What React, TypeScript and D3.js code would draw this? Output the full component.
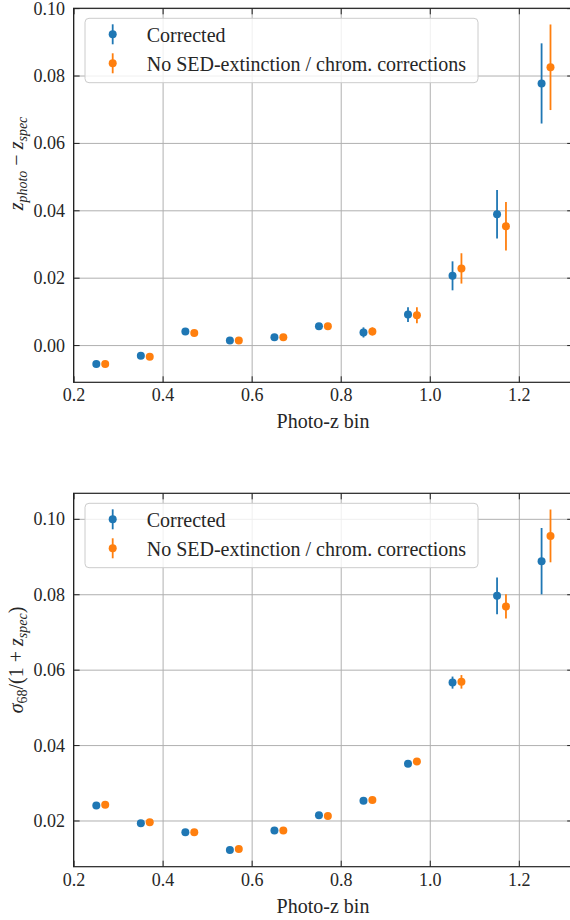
import React from "react";
import * as d3 from "d3";

const binsCorrected = [0.25, 0.35, 0.45, 0.55, 0.65, 0.75, 0.85, 0.95, 1.05, 1.15, 1.25];
const binsNoCorr = [0.27, 0.37, 0.47, 0.57, 0.67, 0.77, 0.87, 0.97, 1.07, 1.17, 1.27];

const biasCorrected = [-0.0055, -0.0030, 0.0042, 0.0015, 0.0025, 0.0057, 0.0039, 0.0092, 0.0207, 0.0390, 0.0778];
const biasCorrectedErr = [0.0004, 0.0004, 0.0004, 0.0004, 0.0004, 0.0004, 0.0015, 0.0022, 0.0043, 0.0072, 0.0119];
const biasNoCorr = [-0.0055, -0.0033, 0.0037, 0.0015, 0.0025, 0.0057, 0.0042, 0.0090, 0.0229, 0.0354, 0.0826];
const biasNoCorrErr = [0.0004, 0.0004, 0.0004, 0.0004, 0.0004, 0.0004, 0.0012, 0.0024, 0.0045, 0.0072, 0.0127];

const scatterCorrected = [0.0241, 0.0194, 0.0170, 0.0123, 0.0175, 0.0215, 0.0254, 0.0352, 0.0567, 0.0797, 0.0889];
const scatterCorrectedErr = [0.0003, 0.0003, 0.0003, 0.0003, 0.0003, 0.0003, 0.0004, 0.0006, 0.0016, 0.0049, 0.0088];
const scatterNoCorr = [0.0243, 0.0197, 0.0170, 0.0126, 0.0175, 0.0213, 0.0256, 0.0358, 0.0569, 0.0769, 0.0956];
const scatterNoCorrErr = [0.0003, 0.0003, 0.0003, 0.0003, 0.0003, 0.0003, 0.0004, 0.0006, 0.0018, 0.0032, 0.0070];

const xTicks = [0.2, 0.4, 0.6, 0.8, 1.0, 1.2];
const biasTicks = [0.0, 0.02, 0.04, 0.06, 0.08, 0.1];
const scatterTicks = [0.02, 0.04, 0.06, 0.08, 0.1];

const legendLabels = ["Corrected", "No SED-extinction / chrom. corrections"];
const xLabel = "Photo-z bin";

const BLUE = "#1f77b4";
const ORANGE = "#ff7f0e";
const TXT = "#262626";
const SERIF = '"Liberation Serif"';
const CSS = `svg#zchart text, svg#zchart tspan { font-family: "Liberation Serif", "Tinos", "FreeSerif" !important; }`;

type Series = { x: number[]; y: number[]; e: number[]; color: string };

function Panel({
  top,
  bottom,
  yDomain,
  yTicks,
  series,
  yLabel,
  yLabelCenter,
}: {
  top: number;
  bottom: number;
  yDomain: [number, number];
  yTicks: number[];
  series: Series[];
  yLabel: React.ReactNode;
  yLabelCenter: number;
}) {
  const left = 73.6;
  const right = 573.2;
  const x = d3.scaleLinear().domain([0.199, 1.321]).range([left, right]);
  const y = d3.scaleLinear().domain(yDomain).range([bottom, top]);
  const tickLen = 6;
  const fmtX = d3.format(".1f");
  const fmtY = d3.format(".2f");
  const legTop = top + 10;
  return (
    <g>
      {xTicks.map((t) => (
        <line key={"gx" + t} x1={x(t)} x2={x(t)} y1={top} y2={bottom} stroke="#b0b0b0" strokeWidth={1} />
      ))}
      {yTicks.map((t) => (
        <line key={"gy" + t} x1={left} x2={right} y1={y(t)} y2={y(t)} stroke="#b0b0b0" strokeWidth={1} />
      ))}
      {series.map((s, si) => (
        <g key={"s" + si}>
          {s.x.map((xv, i) => (
            <g key={i}>
              <line
                x1={x(xv)}
                x2={x(xv)}
                y1={y(s.y[i] - s.e[i])}
                y2={y(s.y[i] + s.e[i])}
                stroke={s.color}
                strokeWidth={1.8}
              />
              <circle cx={x(xv)} cy={y(s.y[i])} r={4} fill={s.color} />
            </g>
          ))}
        </g>
      ))}
      {xTicks.map((t) => (
        <g key={"tx" + t}>
          <line x1={x(t)} x2={x(t)} y1={bottom} y2={bottom - tickLen} stroke="#222" strokeWidth={1} />
          <line x1={x(t)} x2={x(t)} y1={top} y2={top + tickLen} stroke="#222" strokeWidth={1} />
          <text x={x(t)} y={bottom + 19} textAnchor="middle" fontSize={18} style={{ fontFamily: SERIF }} fill={TXT}>
            {fmtX(t)}
          </text>
        </g>
      ))}
      {yTicks.map((t) => (
        <g key={"ty" + t}>
          <line x1={left} x2={left + tickLen} y1={y(t)} y2={y(t)} stroke="#222" strokeWidth={1} />
          <line x1={right} x2={right - tickLen} y1={y(t)} y2={y(t)} stroke="#222" strokeWidth={1} />
          <text x={65} y={y(t) + 6} textAnchor="end" fontSize={18} style={{ fontFamily: SERIF }} fill={TXT}>
            {fmtY(t)}
          </text>
        </g>
      ))}
      <rect x={left} y={top} width={right - left} height={bottom - top} fill="none" stroke="#222" strokeWidth={1.2} />
      <rect
        x={85}
        y={legTop}
        width={393}
        height={64.4}
        rx={4}
        fill="white"
        fillOpacity={0.8}
        stroke="#cccccc"
        strokeWidth={1}
      />
      {legendLabels.map((lab, i) => {
        const cy = legTop + 16 + i * 29;
        const c = i === 0 ? BLUE : ORANGE;
        return (
          <g key={"leg" + i}>
            <line x1={112.7} x2={112.7} y1={cy - 10} y2={cy + 10} stroke={c} strokeWidth={1.8} />
            <circle cx={112.7} cy={cy} r={4} fill={c} />
            <text x={146.7} y={cy + 7.3} fontSize={20} style={{ fontFamily: SERIF }} fill={TXT}>
              {lab}
            </text>
          </g>
        );
      })}
      <text x={(74 + 572) / 2} y={bottom + 46} textAnchor="middle" fontSize={20} style={{ fontFamily: SERIF }} fill={TXT}>
        {xLabel}
      </text>
      <text
        transform={`translate(23,${yLabelCenter}) rotate(-90)`}
        textAnchor="middle"
        fontSize={20}
        style={{ fontFamily: SERIF }}
        fill={TXT}
      >
        {yLabel}
      </text>
    </g>
  );
}

export default function App() {
  const topSeries: Series[] = [
    { x: binsCorrected, y: biasCorrected, e: biasCorrectedErr, color: BLUE },
    { x: binsNoCorr, y: biasNoCorr, e: biasNoCorrErr, color: ORANGE },
  ];
  const botSeries: Series[] = [
    { x: binsCorrected, y: scatterCorrected, e: scatterCorrectedErr, color: BLUE },
    { x: binsNoCorr, y: scatterNoCorr, e: scatterNoCorrErr, color: ORANGE },
  ];
  const topLabel = (
    <>
      <tspan fontStyle="italic">z</tspan>
      <tspan fontStyle="italic" fontSize={14} dy={4}>photo</tspan>
      <tspan dy={-4}>{" \u2212 "}</tspan>
      <tspan fontStyle="italic">z</tspan>
      <tspan fontStyle="italic" fontSize={14} dy={4}>spec</tspan>
    </>
  );
  const botLabel = (
    <>
      <tspan fontStyle="italic">σ</tspan>
      <tspan fontSize={14} dy={4}>68</tspan>
      <tspan dy={-4}>{"/(1 + "}</tspan>
      <tspan fontStyle="italic">z</tspan>
      <tspan fontStyle="italic" fontSize={14} dy={4}>spec</tspan>
      <tspan dy={-4}>)</tspan>
    </>
  );
  return (
    <svg id="zchart" width={570} height={920} style={{ position: "absolute", left: 0, top: 0, background: "white" }}>
      <style>{CSS}</style>
      <rect width={570} height={920} fill="white" />
      <Panel
        top={8.3}
        bottom={382.3}
        yDomain={[-0.0109, 0.1001]}
        yTicks={biasTicks}
        series={topSeries}
        yLabel={topLabel}
        yLabelCenter={163.5}
      />
      <Panel
        top={493.3}
        bottom={866.7}
        yDomain={[0.00788, 0.1069]}
        yTicks={scatterTicks}
        series={botSeries}
        yLabel={botLabel}
        yLabelCenter={660}
      />
    </svg>
  );
}
